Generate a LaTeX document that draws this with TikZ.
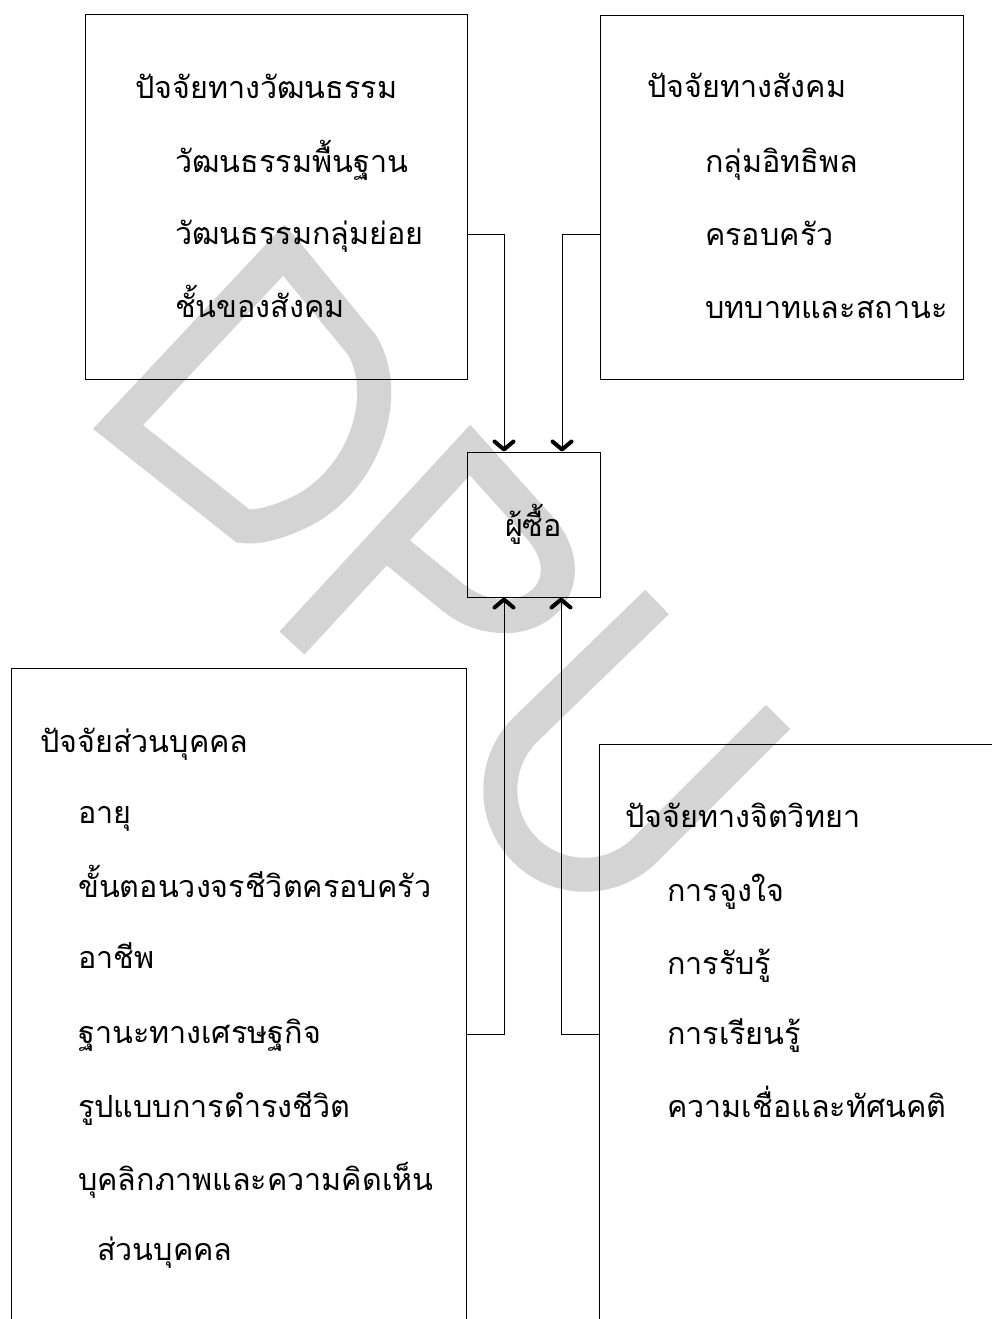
\documentclass[tikz,border=0pt]{standalone}
\usepackage{fontspec}
\newfontfamily\thai[Script=Thai]{Loma}
\usetikzlibrary{arrows.meta}
\definecolor{wmgray}{RGB}{212,212,212}
\begin{document}
\begin{tikzpicture}[x=1pt,y=-1pt,
  box/.style={draw, line width=1pt, rectangle, inner sep=0pt, anchor=north west},
  lbl/.style={anchor=base west, inner sep=0pt, font=\thai\fontsize{30.5}{36}\selectfont},
  arr/.style={line width=1pt, -{Straight Barb[length=8pt,width=19pt,line width=4pt,round]}},
  wm/.style={line width=34pt, draw=wmgray, line join=miter}]
\useasboundingbox[fill=white] (0,0) rectangle (992,1319);

% watermark
\draw[wm] (118,427) -- (284,250) -- (362,345) .. controls (392,395) and (365,480) .. (300,512) .. controls (275,524) and (255,528) .. (243,526) -- cycle;
\draw[wm] (292,643) -- (470,450) -- (540,528) .. controls (575,568) and (555,612) .. (510,616) .. controls (490,617) and (470,612) .. (450,595) -- (385,542);
\draw[wm] (657,602) -- (525,730) .. controls (492,763) and (492,817) .. (525,850) .. controls (558,883) and (612,883) .. (645,850) -- (778,717);

% boxes
\node[box, minimum width=382pt, minimum height=365pt] (tl) at (85,14) {};
\node[box, minimum width=363pt, minimum height=364pt] (tr) at (600,15) {};
\node[box, anchor=center, minimum width=133pt, minimum height=145pt, font=\thai\fontsize{30.5}{36}\selectfont] (buyer) at (533.5,524.5) {ผู้ซื้อ};
\node[box, minimum width=455pt, minimum height=700pt] (bl) at (11,668) {};
\node[box, minimum width=420pt, minimum height=620pt] (br) at (599,744) {};

% texts top-left
\node[lbl] (tl1) at (135,99) {ปัจจัยทางวัฒนธรรม};
\node[lbl] (tl2) at (175,172) {วัฒนธรรมพื้นฐาน};
\node[lbl] (tl3) at (175,244) {วัฒนธรรมกลุ่มย่อย};
\node[lbl] (tl4) at (175,317) {ชั้นของสังคม};
% texts top-right
\node[lbl] (tr1) at (647,98) {ปัจจัยทางสังคม};
\node[lbl] (tr2) at (705,172) {กลุ่มอิทธิพล};
\node[lbl] (tr3) at (705,245) {ครอบครัว};
\node[lbl] (tr4) at (705,318) {บทบาทและสถานะ};
% texts bottom-left
\node[lbl] (bl1) at (40,752) {ปัจจัยส่วนบุคคล};
\node[lbl] (bl2) at (78,823) {อายุ};
\node[lbl] (bl3) at (78,897) {ขั้นตอนวงจรชีวิตครอบครัว};
\node[lbl] (bl4) at (78,968) {อาชีพ};
\node[lbl] (bl5) at (78,1043) {ฐานะทางเศรษฐกิจ};
\node[lbl] (bl6) at (78,1117) {รูปแบบการดำรงชีวิต};
\node[lbl] (bl7) at (78,1190) {บุคลิกภาพและความคิดเห็น};
\node[lbl] (bl8) at (97,1260) {ส่วนบุคคล};
% texts bottom-right
\node[lbl] (br1) at (625,827) {ปัจจัยทางจิตวิทยา};
\node[lbl] (br2) at (667,901) {การจูงใจ};
\node[lbl] (br3) at (667,974) {การรับรู้};
\node[lbl] (br4) at (667,1044) {การเรียนรู้};
\node[lbl] (br5) at (667,1117) {ความเชื่อและทัศนคติ};

% connectors
\coordinate (c1) at (504,234);
\coordinate (c2) at (562,234);
\coordinate (c3) at (504,1034);
\coordinate (c4) at (561,1034);
\draw[arr] (tl.east |- c1) -- (c1) -- (c1 |- buyer.north);
\draw[arr] (tr.west |- c2) -- (c2) -- (c2 |- buyer.north);
\draw[arr] (bl.east |- c3) -- (c3) -- (c3 |- buyer.south);
\draw[arr] (br.west |- c4) -- (c4) -- (c4 |- buyer.south);
\end{tikzpicture}
\end{document}
